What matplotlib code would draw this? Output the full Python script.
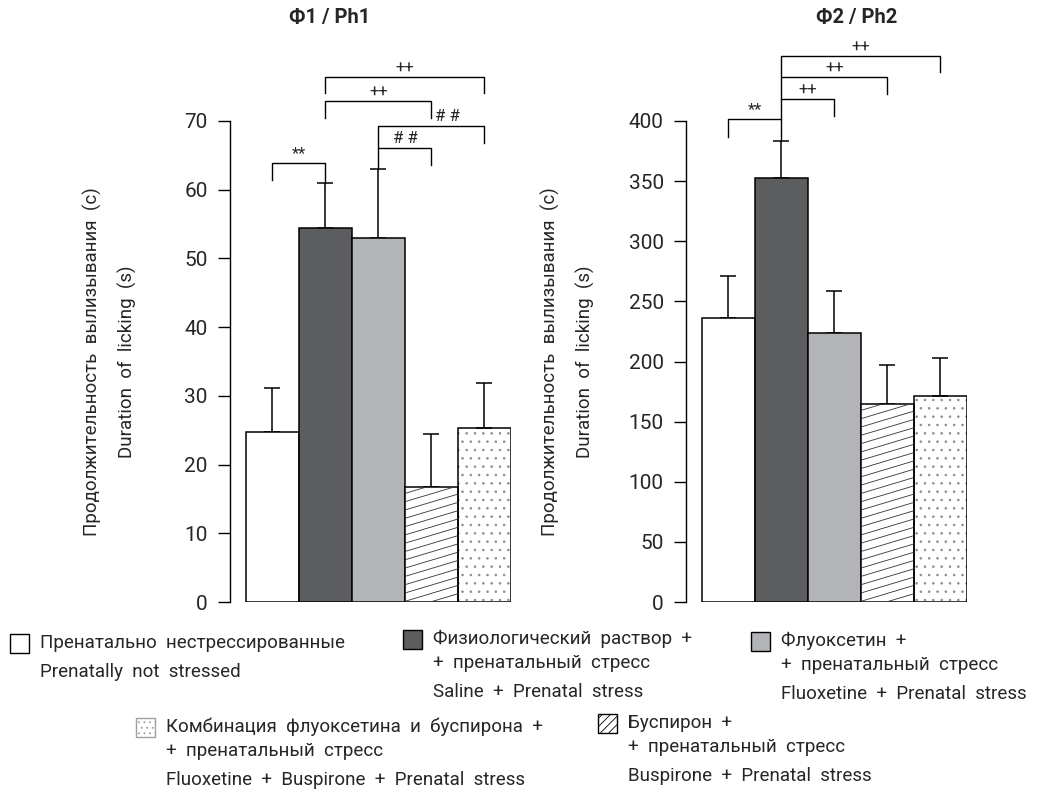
import numpy as np
import matplotlib.pyplot as plt
from matplotlib.patches import Rectangle
from matplotlib.lines import Line2D

plt.rcParams['font.family'] = ['Roboto', 'DejaVu Sans']
plt.rcParams['text.color'] = '#262626'
plt.rcParams['ytick.labelcolor'] = '#262626'
plt.rcParams['hatch.linewidth'] = 0.6

# --- data -------------------------------------------------------------
ph1_mean = [24.7, 54.4, 53.0, 16.8, 25.3]
ph1_err = [6.4, 6.6, 10.0, 7.6, 6.6]
ph2_mean = [236, 353, 224, 165, 171]
ph2_err = [35, 30, 35, 32, 32]

ph1_ticks = [0, 10, 20, 30, 40, 50, 60, 70]
ph2_ticks = [0, 50, 100, 150, 200, 250, 300, 350, 400]

# (left bar, right bar, bracket level, left leg end, right leg end, label, label x)
ph1_brackets = [
    (0, 1, 63.9, 61.4, 61.0, '**', None),
    (2, 3, 66.1, 63.0, 63.6, '# #', None),
    (2, 4, 69.3, 66.1, 66.8, '# #', 3.3),
    (1, 3, 72.9, 70.4, 70.4, '++', None),
    (1, 4, 76.4, 74.1, 74.1, '++', None),
]
ph2_brackets = [
    (0, 1, 401.7, 386.7, 383.4, '**', None),
    (1, 2, 418.3, 401.7, 404.2, '++', None),
    (1, 3, 436.6, 418.3, 422.5, '++', None),
    (1, 4, 454.0, 436.6, 440.7, '++', None),
]

legend_lines = [
    ['Пренатально  нестрессированные'],
    ['Физиологический  раствор  +', '+  пренатальный  стресс'],
    ['Флуоксетин  +', '+  пренатальный  стресс'],
    ['Комбинация  флуоксетина  и  буспирона  +', '+  пренатальный  стресс'],
    ['Буспирон  +', '+  пренатальный  стресс'],
]
legend_en = [
    'Prenatally  not  stressed',
    'Saline  +  Prenatal  stress',
    'Fluoxetine  +  Prenatal  stress',
    'Fluoxetine  +  Buspirone  +  Prenatal  stress',
    'Buspirone  +  Prenatal  stress',
]

# --- styles -----------------------------------------------------------
colors = ['white', '#5c5d5f', '#b2b4b7', 'white', 'white']
FS = 13.5
W, H = 1047, 798

fig = plt.figure(figsize=(W / 100, H / 100), dpi=100)
ax1 = fig.add_axes([230 / W, 1 - 602 / H, 281 / W, 481 / H])
ax2 = fig.add_axes([686 / W, 1 - 602 / H, 281 / W, 481 / H])


def slanted_hatch(ax, patch, spacing=8.3, slope=0.3):
    x0, y0 = ax.transData.transform((patch.get_x(), patch.get_y()))
    x1, y1 = ax.transData.transform((patch.get_x() + patch.get_width(),
                                     patch.get_y() + patch.get_height()))
    inv = ax.transData.inverted()
    w = x1 - x0
    start = y0 - slope * w
    for yy in np.arange(start, y1 + spacing, spacing):
        pts = inv.transform([(x0, yy), (x1, yy + slope * w)])
        ln = Line2D(pts[:, 0], pts[:, 1], color='#333333', lw=0.6)
        ax.add_line(ln)
        ln.set_clip_path(patch)


def draw_panel(ax, means, errs, ticks, brackets, ylim):
    x = np.arange(len(means))
    ax.set_xlim(-0.8, 4.5)
    ax.set_ylim(*ylim)
    # stipple background for the combination bar
    ax.bar(x[4], means[4], width=1, color='white', edgecolor='#8c8c8c',
           linewidth=0, hatch='..', zorder=1)
    bars = ax.bar(x, means, width=1, color=colors, edgecolor='black',
                  linewidth=1.1, zorder=2)
    bars[4].set_facecolor('none')
    slanted_hatch(ax, bars[3])
    ax.errorbar(x, means, yerr=[np.zeros(len(errs)), errs], fmt='none',
                ecolor='black', elinewidth=1.1, capsize=6, capthick=1.1,
                zorder=1)
    for i, j, yb, yl, yr, lab, lx in brackets:
        ax.plot([i, i, j, j], [yl, yb, yb, yr], color='black', lw=1.0,
                clip_on=False)
        tx = (i + j) / 2 if lx is None else lx
        ax.annotate(lab, (tx, yb), xytext=(0, 1), textcoords='offset points',
                    ha='center', va='bottom', fontsize=12,
                    annotation_clip=False)
    for s in ['top', 'right', 'bottom']:
        ax.spines[s].set_visible(False)
    ax.spines['left'].set_linewidth(1.0)
    ax.set_xticks([])
    ax.set_yticks(ticks)
    ax.tick_params(axis='y', length=9, width=1.0, pad=7, labelsize=15)


draw_panel(ax1, ph1_mean, ph1_err, ph1_ticks, ph1_brackets, (0, 70))
draw_panel(ax2, ph2_mean, ph2_err, ph2_ticks, ph2_brackets, (0, 400))

fig.text(330 / W, 1 - 18 / H, 'Ф1 / Ph1', ha='center', va='center',
         fontsize=14.5, fontweight='bold')
fig.text(857 / W, 1 - 18 / H, 'Ф2 / Ph2', ha='center', va='center',
         fontsize=14.5, fontweight='bold')

for xl in (92, 550):
    fig.text(xl / W, 1 - 362 / H, 'Продолжительность  вылизывания  (с)',
             rotation=90, ha='center', va='center', fontsize=FS)
    fig.text((xl + 35) / W, 1 - 362 / H, 'Duration  of  licking  (s)',
             rotation=90, ha='center', va='center', fontsize=FS)

# --- legend (drawn in pixel space) -------------------------------------
lg = fig.add_axes([0, 0, 1, 1])
lg.set_xlim(0, W)
lg.set_ylim(H, 0)
lg.axis('off')

leg_pos = [(10, 643), (403, 639), (751, 641), (136, 727), (598, 723)]
leg_face = ['white', '#5c5d5f', '#b2b4b7', 'white', 'white']
leg_edge = ['black', 'black', 'black', '#a0a0a0', 'black']
leg_hatch = [None, None, None, '...', '////']
sq = 19
for k, (px, py) in enumerate(leg_pos):
    lg.add_patch(Rectangle((px, py - sq / 2), sq, sq, facecolor=leg_face[k],
                           edgecolor=leg_edge[k], hatch=leg_hatch[k], lw=1.0))
    tx = px + sq + 11
    yy = py
    for line in legend_lines[k]:
        lg.text(tx, yy, line, ha='left', va='center', fontsize=FS)
        yy += 24
    yy += 5
    lg.text(tx, yy, legend_en[k], ha='left', va='center', fontsize=FS)

fig.savefig('out.png', dpi=100)
